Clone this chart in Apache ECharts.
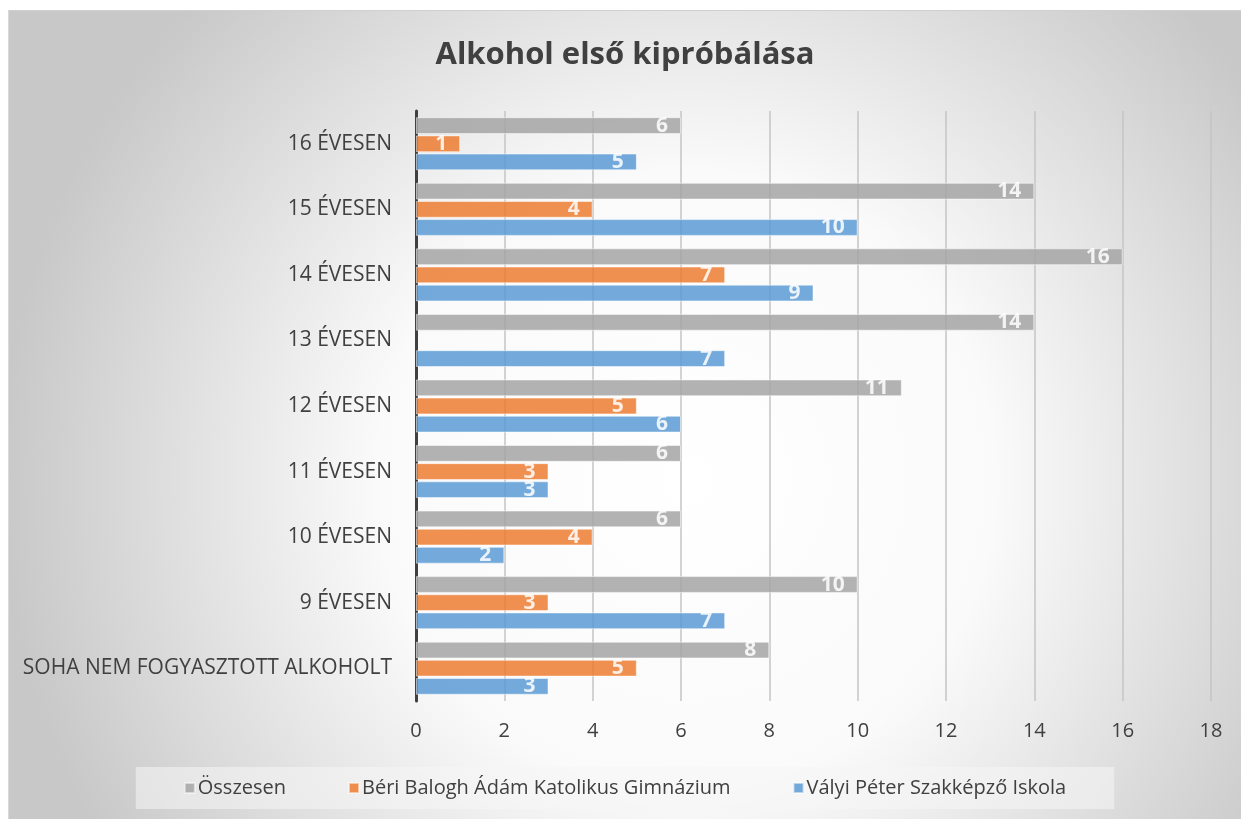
<!DOCTYPE html>
<html>
<head>
<meta charset="utf-8">
<script src="https://cdn.jsdelivr.net/npm/echarts@6/dist/echarts.min.js"></script>
<style>
  html, body { margin: 0; padding: 0; background: #fff; }
  #main {
    position: absolute; left: 8px; top: 10px;
    width: 1232px; height: 808px;
    border-top: 1px solid #d0d0d0; border-left: 1px solid #d9d9d9;
  }
</style>
</head>
<body>
<div id="main"></div>
<script>
    // kategóriák (alulról felfelé)
    var categories = ['SOHA NEM FOGYASZTOTT ALKOHOLT', '9 ÉVESEN', '10 ÉVESEN', '11 ÉVESEN',
        '12 ÉVESEN', '13 ÉVESEN', '14 ÉVESEN', '15 ÉVESEN', '16 ÉVESEN'];

    var osszesen = [8, 10, 6, 6, 11, 14, 16, 14, 6];
    var beri = [5, 3, 4, 3, 5, null, 7, 4, 1];
    var valyi = [3, 7, 2, 3, 6, 7, 9, 10, 5];

    var xTicks = [0, 2, 4, 6, 8, 10, 12, 14, 16, 18];

    var font = 'Open Sans';
    var chart1 = echarts.init(document.getElementById('main'));

    function barSeries(name, data, color) {
        return {
            name: name,
            type: 'bar',
            data: data,
            barGap: '8%',
            barCategoryGap: '19%',
            itemStyle: {
                color: color,
                opacity: 0.85,
                borderColor: 'rgba(255,255,255,0.6)',
                borderWidth: 1
            },
            label: {
                show: true,
                position: 'insideRight',
                distance: 13,
                color: '#fff',
                fontFamily: font,
                fontWeight: 'bold',
                fontSize: 21
            }
        };
    }

    var option = {
        backgroundColor: {
            type: 'radial',
            x: 0.55, y: 0.58, r: 0.85,
            colorStops: [
                { offset: 0, color: '#ffffff' },
                { offset: 0.45, color: '#fafafa' },
                { offset: 1, color: '#c8c8c8' }
            ]
        },
        textStyle: { fontFamily: font },
        title: {
            text: 'Alkohol első kipróbálása',
            left: 'center',
            top: 24,
            textStyle: { color: '#404040', fontSize: 31, fontWeight: 'bold', fontFamily: font }
        },
        legend: {
            data: ['Összesen', 'Béri Balogh Ádám Katolikus Gimnázium', 'Vályi Péter Szakképző Iskola'],
            bottom: 10,
            left: 'center',
            itemWidth: 10,
            itemHeight: 10,
            itemGap: 62,
            padding: [11, 48],
            backgroundColor: 'rgba(245,245,245,0.55)',
            textStyle: { color: '#404040', fontSize: 20, fontFamily: font, padding: [0, 0, 0, -2] },
            icon: 'rect'
        },
        grid: {
            left: 407,
            right: 30,
            top: 100,
            bottom: 118
        },
        xAxis: {
            type: 'value',
            min: xTicks[0],
            max: xTicks[xTicks.length - 1],
            interval: 2,
            axisLine: { show: false },
            axisTick: { show: false },
            axisLabel: { color: '#404040', fontSize: 20, margin: 20, fontFamily: font },
            splitLine: { lineStyle: { color: '#c4c4c4', width: 1.5 } }
        },
        yAxis: {
            type: 'category',
            data: categories,
            axisLine: { lineStyle: { color: '#404040', width: 3 } },
            axisTick: { show: false },
            axisLabel: { color: '#404040', fontSize: 21, margin: 24, fontFamily: font }
        },
        series: [
            barSeries('Összesen', osszesen, '#a5a5a5'),
            barSeries('Béri Balogh Ádám Katolikus Gimnázium', beri, '#ed7d31'),
            barSeries('Vályi Péter Szakképző Iskola', valyi, '#5b9bd5')
        ]
    };

    chart1.setOption(option);
</script>
</body>
</html>
